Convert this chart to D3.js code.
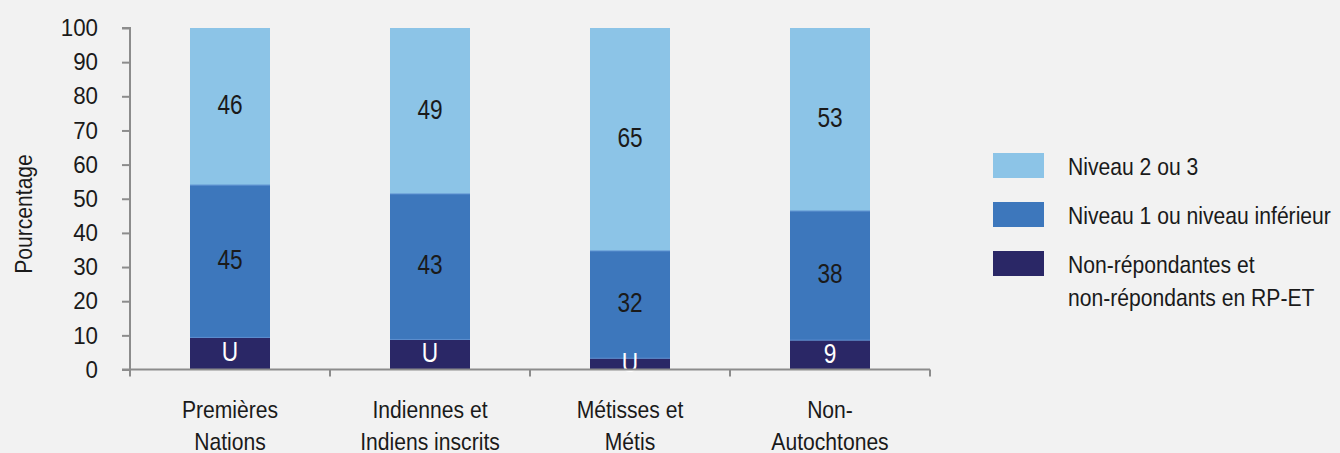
<!DOCTYPE html>
<html>
<head>
<meta charset="utf-8">
<script src="https://cdn.jsdelivr.net/npm/d3@7"></script>
<style>
  html, body { margin: 0; padding: 0; background: #f2f2f2; }
  svg { display: block; font-family: "Liberation Sans", Arial, sans-serif; }
</style>
</head>
<body>
<svg id="chart" width="1340" height="453"></svg>
<script>
// categories, two lines each
let categories = [
    ['Premières', 'Nations'],
    ['Indiennes et', 'Indiens inscrits'],
    ['Métisses et', 'Métis'],
    ['Non-', 'Autochtones']
];

let seriesNames = [
    'Non-répondantes et non-répondants en RP-ET',
    'Niveau 1 ou niveau inférieur',
    'Niveau 2 ou 3'
];

// heights (percent)
let nonRespondents = [9.4, 8.8, 3.3, 8.6];
let level1 = [44.6, 42.6, 31.4, 37.8];
let level23 = [46, 48.6, 65.3, 53.6];

// labels printed in the bars
let nonRespondentsLabels = ['U', 'U', 'U', '9'];
let level1Labels = ['45', '43', '32', '38'];
let level23Labels = ['46', '49', '65', '53'];

let yTicks = [0, 10, 20, 30, 40, 50, 60, 70, 80, 90, 100];

let colors = ['#2a2766', '#3d77bc', '#8cc4e7'];
let labelColors = ['#ffffff', '#1a1a1a', '#1a1a1a'];

const FONT_SIZE = 24;
const SQUEEZE = 0.88;   // the original uses a condensed face

let svg = d3.select('#chart');

// text drawn narrow: group at (x, y), squeezed horizontally
function narrowText(parent, x, y, lines, opts) {
    opts = opts || {};
    let sq = opts.squeeze || SQUEEZE;
    let g = parent.append('g')
        .attr('transform', `translate(${x},${y}) scale(${sq},1)`);
    let t = g.append('text')
        .attr('text-anchor', opts.anchor || 'middle')
        .attr('font-size', opts.size || FONT_SIZE)
        .attr('fill', opts.fill || '#1a1a1a');
    lines.forEach((line, j) => {
        t.append('tspan')
            .attr('x', 0)
            .attr('y', j * (opts.lineHeight || 32))
            .attr('dy', opts.dy || 0)
            .text(line);
    });
    return g;
}

let x = d3.scaleBand()
    .domain(d3.range(categories.length))
    .range([130, 930])
    .paddingInner(0.6)
    .paddingOuter(0.3);

let y = d3.scaleLinear()
    .domain([0, 100])
    .range([369.5, 28]);

let seriesValues = [nonRespondents, level1, level23];
let seriesLabels = [nonRespondentsLabels, level1Labels, level23Labels];

let rows = categories.map((c, i) => {
    let r = {idx: i};
    seriesValues.forEach((vals, s) => { r['s' + s] = vals[i]; });
    return r;
});

let stacked = d3.stack().keys(['s0', 's1', 's2'])(rows);

let layers = svg.selectAll('.layer')
    .data(stacked)
    .enter()
    .append('g')
    .classed('layer', true)
    .attr('fill', (d, i) => colors[i]);

layers.selectAll('rect')
    .data(d => d)
    .enter()
    .append('rect')
    .attr('x', d => x(d.data.idx))
    .attr('width', x.bandwidth())
    .attr('y', d => y(d[1]))
    .attr('height', d => y(d[0]) - y(d[1]));

// thin separation lines between segments
layers.filter((d, i) => i > 0)
    .selectAll('line')
    .data(d => d)
    .enter()
    .append('line')
    .attr('x1', d => x(d.data.idx))
    .attr('x2', d => x(d.data.idx) + x.bandwidth())
    .attr('y1', d => y(d[0]))
    .attr('y2', d => y(d[0]))
    .attr('stroke', '#5b8fd0')
    .attr('stroke-width', 1);

let barLabels = svg.append('g');
stacked.forEach((layer, s) => {
    layer.forEach(d => {
        narrowText(barLabels,
            x(d.data.idx) + x.bandwidth() / 2,
            (y(d[0]) + y(d[1])) / 2 - 2,
            [seriesLabels[s][d.data.idx]],
            {fill: labelColors[s], dy: '0.36em', size: 27, squeeze: 0.84});
    });
});

// y axis
let yAxis = d3.axisLeft(y)
    .tickValues(yTicks)
    .tickSize(8)
    .tickPadding(32);

let gy = svg.append('g')
    .attr('transform', 'translate(130,0)')
    .call(yAxis);
gy.select('.domain').attr('stroke', '#8c8c8c').attr('stroke-width', 2)
    .attr('d', `M-8,${y(100)}H0V${y(0)}H-8`);
gy.selectAll('.tick line').attr('stroke', '#8c8c8c').attr('stroke-width', 2);
gy.selectAll('.tick text')
    .attr('font-size', FONT_SIZE)
    .attr('fill', '#1a1a1a')
    .attr('x', -32 / 0.93)
    .attr('transform', 'scale(0.93,1)')
    .style('font-family', '"Liberation Sans", Arial, sans-serif');

// x axis: boundaries between categories
let xBounds = d3.range(categories.length + 1).map(i => 130 + i * 200);
let gx = svg.append('g');
gx.append('line')
    .attr('x1', 130).attr('x2', 930)
    .attr('y1', y(0)).attr('y2', y(0))
    .attr('stroke', '#8c8c8c').attr('stroke-width', 2);
gx.selectAll('.xtick')
    .data(xBounds)
    .enter()
    .append('line')
    .attr('x1', d => d).attr('x2', d => d)
    .attr('y1', y(0)).attr('y2', y(0) + 7)
    .attr('stroke', '#8c8c8c').attr('stroke-width', 2);

categories.forEach((lines, i) => {
    narrowText(gx, x(i) + x.bandwidth() / 2, 418, lines, {lineHeight: 32});
});

narrowText(svg, 0, 0, ['Pourcentage'], {})
    .attr('transform', `translate(32,214) rotate(-90) scale(${SQUEEZE},1)`);

// legend, top entry is the top layer
let legendItems = [
    {name: ['Niveau 2 ou 3'], color: colors[2]},
    {name: ['Niveau 1 ou niveau inférieur'], color: colors[1]},
    {name: ['Non-répondantes et', 'non-répondants en RP-ET'], color: colors[0]}
];

let legend = svg.append('g');
let lg = legend.selectAll('g')
    .data(legendItems)
    .enter()
    .append('g')
    .attr('transform', (d, i) => `translate(993,${153 + i * 49})`);

lg.append('rect')
    .attr('width', 51)
    .attr('height', 25)
    .attr('fill', d => d.color);

lg.each(function (d) {
    narrowText(d3.select(this), 75, 22, d.name, {anchor: 'start', lineHeight: 33});
});
</script>
</body>
</html>
